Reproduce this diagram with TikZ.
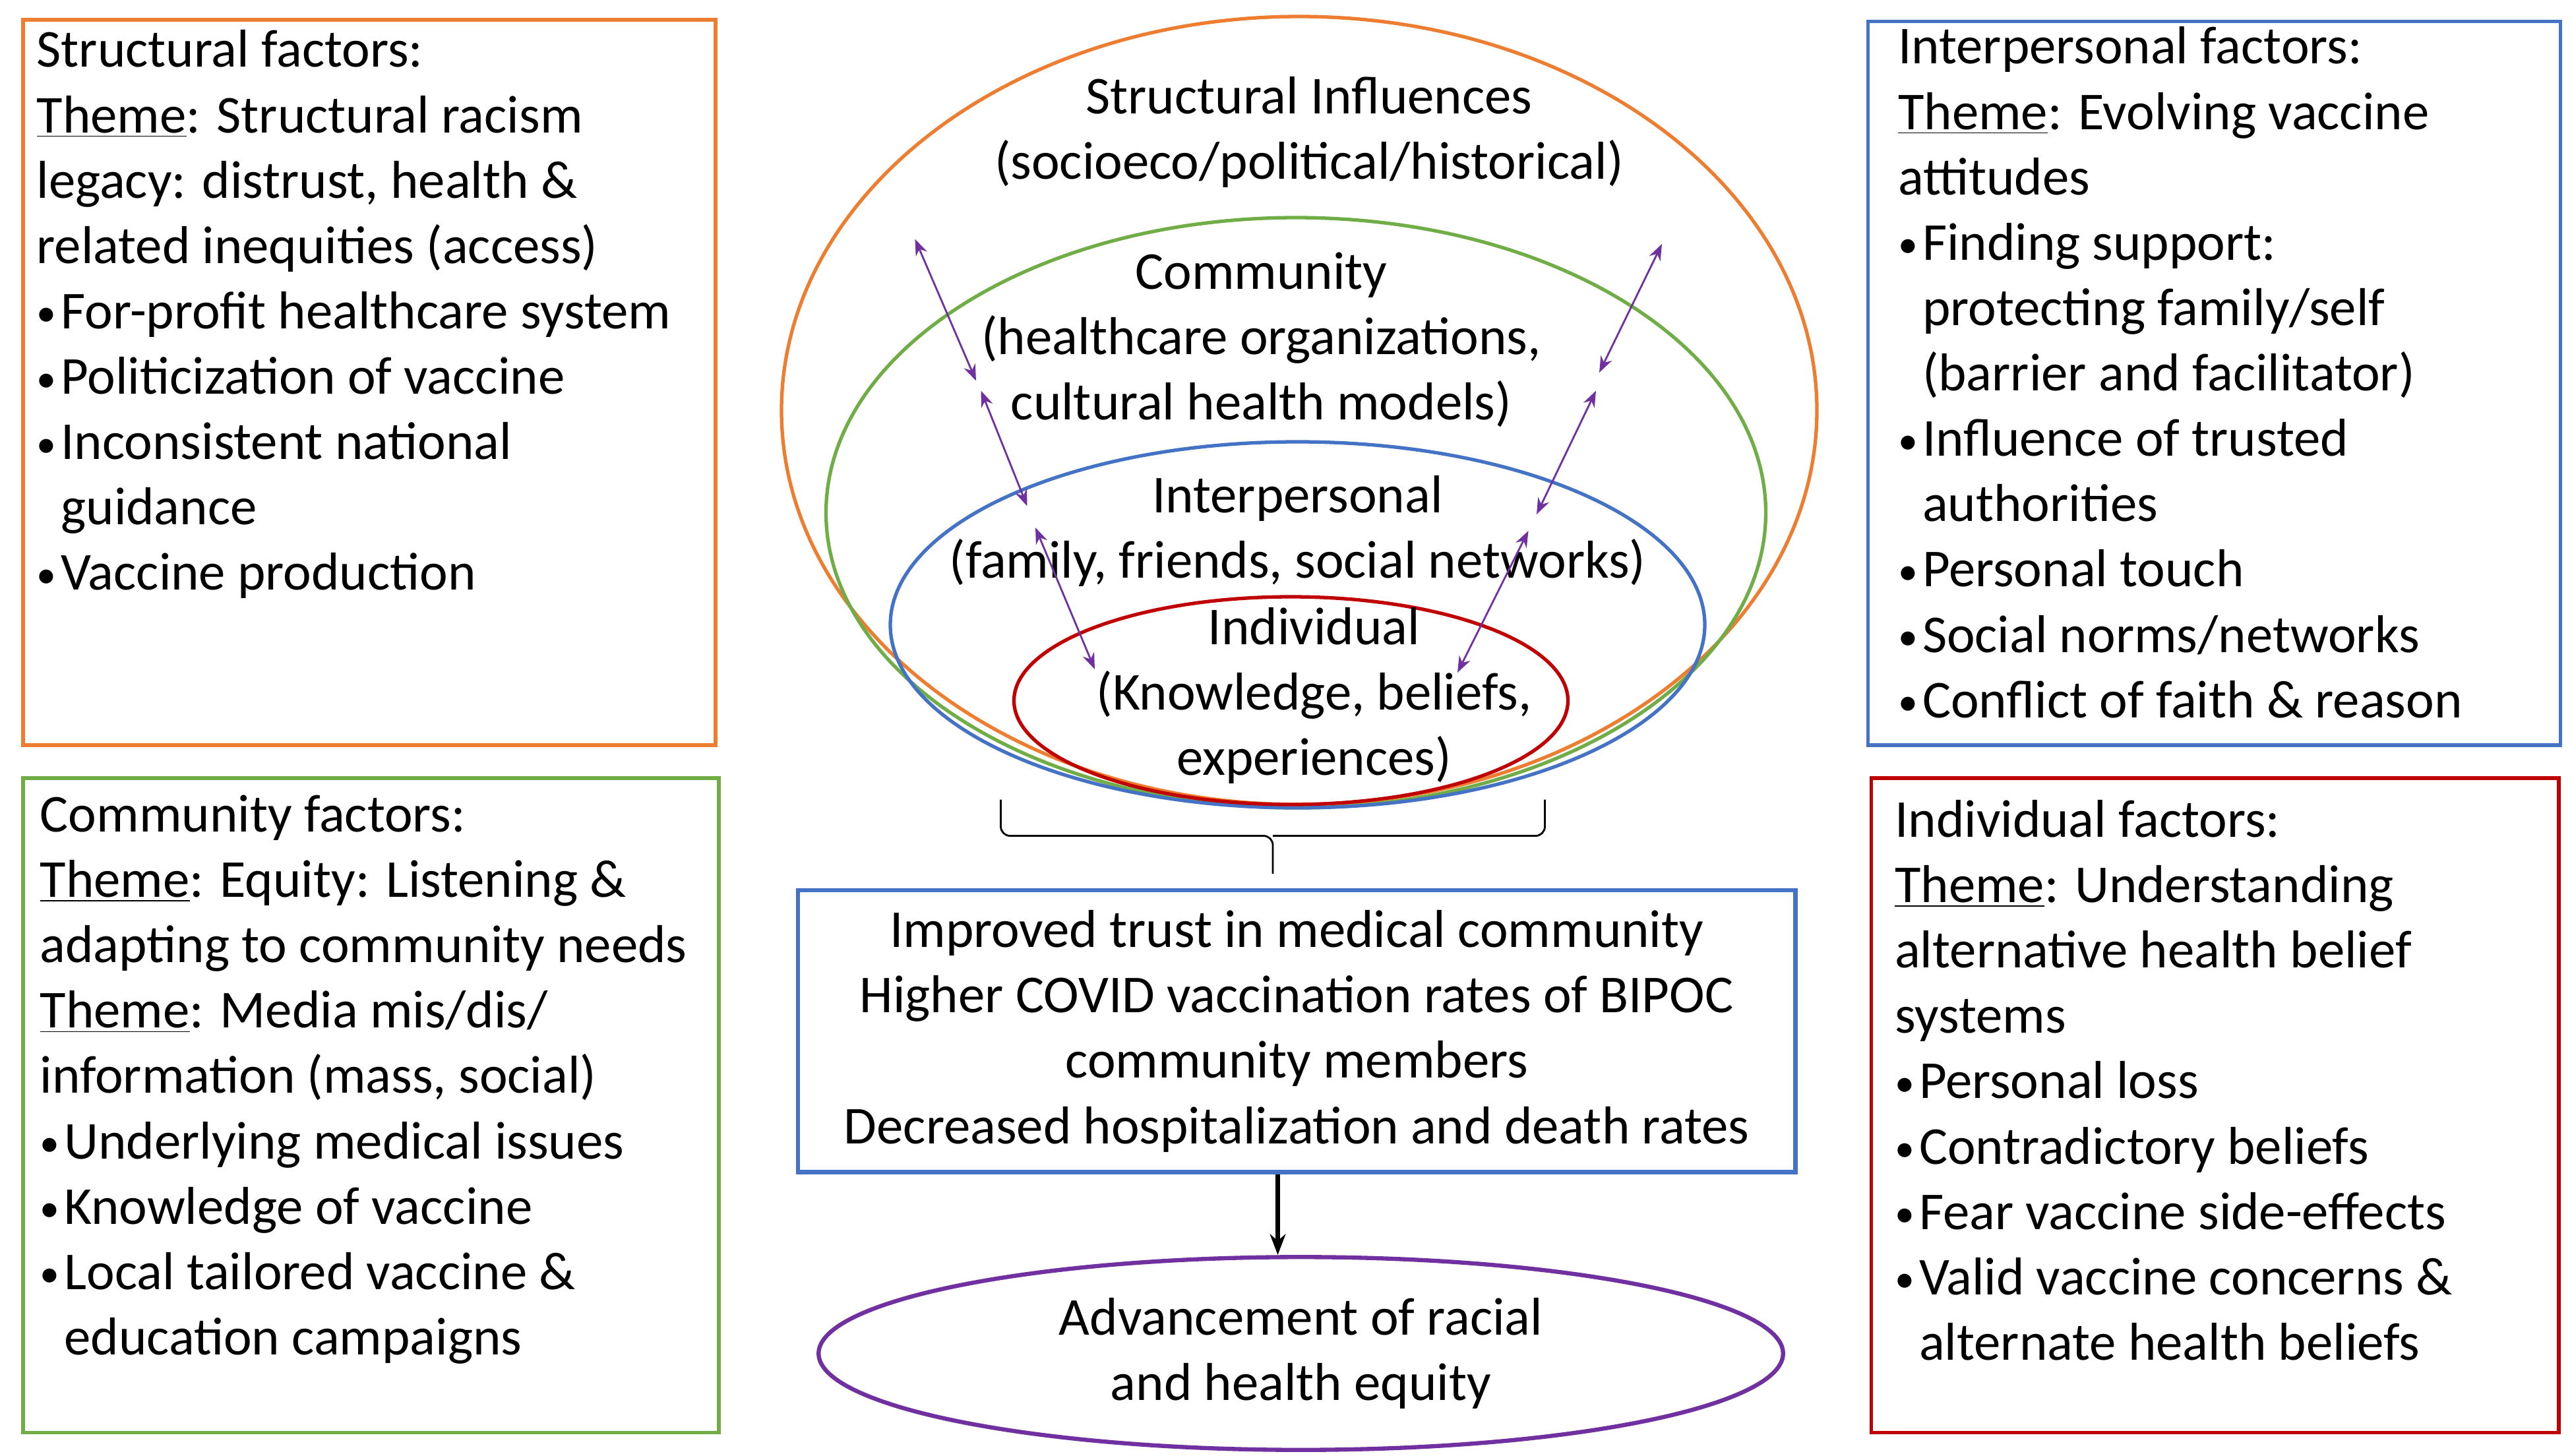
\documentclass[tikz,border=0pt]{standalone}
\usepackage{fontspec}
\setmainfont{Carlito}
\usetikzlibrary{arrows.meta,shapes.geometric}
\definecolor{cor}{HTML}{ED7D31}
\definecolor{cgr}{HTML}{70AD47}
\definecolor{cbl}{HTML}{4472C4}
\definecolor{cre}{HTML}{C00000}
\definecolor{cpu}{HTML}{7030A0}
\newcommand{\bu}{\raisebox{1pt}{\fontsize{17}{17}\selectfont•}\hspace{2pt}}
\newcommand{\ind}{\phantom{\bu}}
\begin{document}
\begin{tikzpicture}[x=0.025cm,y=-0.025cm,
  txt/.style={font=\fontsize{23}{28.2}\selectfont,inner sep=0pt},
  box/.style={line width=1.5pt},
  pa/.style={cpu,line width=0.8pt,{Stealth[length=7pt]}-{Stealth[length=7pt]}}]
\useasboundingbox[fill=white] (0,0) rectangle (1560,883);
% side boxes
\draw[box,cor] (14,12) rectangle (434,452);
\draw[box,cgr] (14,472) rectangle (436,869);
\draw[box,cbl] (1133,13) rectangle (1553,452);
\draw[box,cre] (1135,472) rectangle (1552,869);
\node[txt,anchor=north west,align=left] (sf) at (22,18) {Structural factors:\\
\underline{Theme}: Structural racism\\ legacy: distrust, health \&\\ related inequities (access)\\
\bu For-profit healthcare system\\ \bu Politicization of vaccine\\ \bu Inconsistent national\\ \ind guidance\\ \bu Vaccine production};
\node[txt,anchor=north west,align=left] (cf) at (24,482) {Community factors:\\
\underline{Theme}: Equity: Listening \&\\ adapting to community needs\\
\underline{Theme}: Media mis/dis/\\ information (mass, social)\\
\bu Underlying medical issues\\ \bu Knowledge of vaccine\\ \bu Local tailored vaccine \&\\ \ind education campaigns};
\node[txt,anchor=north west,align=left] (if) at (1151,16) {Interpersonal factors:\\
\underline{Theme}: Evolving vaccine\\ attitudes\\
\bu Finding support:\\ \ind protecting family/self\\ \ind (barrier and facilitator)\\
\bu Influence of trusted\\ \ind authorities\\ \bu Personal touch\\ \bu Social norms/networks\\ \bu Conflict of faith \& reason};
\node[txt,anchor=north west,align=left] (df) at (1149,485) {Individual factors:\\
\underline{Theme}: Understanding\\ alternative health belief\\ systems\\
\bu Personal loss\\ \bu Contradictory beliefs\\ \bu Fear vaccine side-effects\\ \bu Valid vaccine concerns \&\\ \ind alternate health beliefs};
% ellipses
\draw[box,cor] (788,249) ellipse [x radius=314, y radius=239];
\draw[box,cgr] (786,311) ellipse [x radius=285, y radius=179];
\draw[box,cbl] (787,379) ellipse [x radius=247, y radius=111];
\draw[box,cre] (783,425) ellipse [x radius=168, y radius=63];
\node[txt,align=center] (s) at (794,80) {Structural Influences\\(socioeco/political/historical)};
\node[txt,align=center] (c) at (765,206) {Community\\(healthcare organizations,\\cultural health models)};
\node[txt,align=center] (p) at (787,322) {Interpersonal\\(family, friends, social networks)};
\node[txt,align=center] (i) at (797,422) {Individual\\(Knowledge, beliefs,\\experiences)};
% purple arrows
\coordinate (a1) at (555,145); \coordinate (a2) at (592,231);
\coordinate (a3) at (595,237); \coordinate (a4) at (623,307);
\coordinate (a5) at (628,320); \coordinate (a6) at (664,406);
\coordinate (b1) at (1008,148); \coordinate (b2) at (970,226);
\coordinate (b3) at (968,237); \coordinate (b4) at (932,312);
\coordinate (b5) at (927,322); \coordinate (b6) at (884,408);
\draw[pa] (a1)--(a2); \draw[pa] (a3)--(a4); \draw[pa] (a5)--(a6);
\draw[pa] (b1)--(b2); \draw[pa] (b3)--(b4); \draw[pa] (b5)--(b6);
% brace
\draw[line width=0.8pt,rounded corners=4pt] (607,485) -- (607,507) -- (772,507) -- (772,530);
\draw[line width=0.8pt,rounded corners=4pt] (937,485) -- (937,507) -- (772,507);
% center box
\node[txt,draw=cbl,line width=1.8pt,minimum width=605*0.025cm,minimum height=171*0.025cm,align=center] (o) at (786.5,625.5)
 {Improved trust in medical community\\Higher COVID vaccination rates of BIPOC\\community members\\Decreased hospitalization and death rates};
\node[txt,draw=cpu,line width=1.8pt,ellipse,inner sep=0pt,minimum width=585*0.025cm,minimum height=117*0.025cm,align=center] (e) at (789,821)
 {Advancement of racial\\and health equity};
\draw[line width=2.2pt,-{Stealth[length=9pt]}] (o.south -| 775,0) -- (e.north -| 775,0);
\end{tikzpicture}
\end{document}
